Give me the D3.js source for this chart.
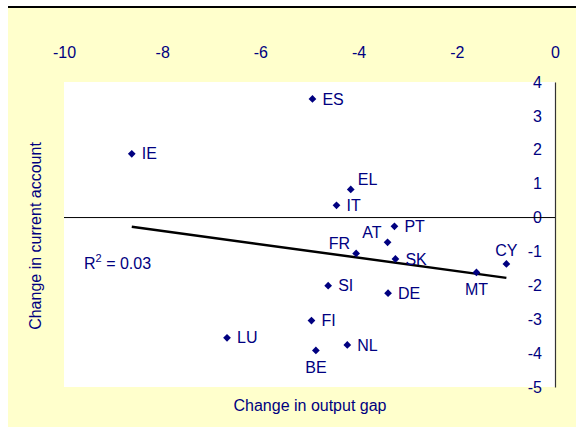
<!DOCTYPE html>
<html><head><meta charset="utf-8">
<script src="https://cdn.jsdelivr.net/npm/d3@7"></script>
<style>
html,body{margin:0;padding:0;background:#fff;}
text{font-family:"Liberation Sans",Arial,sans-serif;}
</style></head>
<body><svg id="c" width="576" height="427"></svg>
<script>
const countries = ["ES","IE","EL","IT","PT","AT","FR","SK","CY","MT","SI","DE","FI","NL","BE","LU"];
const outputGap = [-4.94,-8.62,-4.16,-4.45,-3.27,-3.41,-4.05,-3.25,-0.99,-1.60,-4.62,-3.40,-4.96,-4.23,-4.87,-6.68];
const currentAccount = [3.50,1.88,0.83,0.36,-0.26,-0.73,-1.06,-1.22,-1.37,-1.62,-2.01,-2.23,-3.04,-3.76,-3.92,-3.55];
// label placement: r = right, a = above-right, l = above-left, t = above, b = below
const labelPos = ["r","r","a","r","r","l","l","r","t","b","r","r","r","r","b","r"];
const trendX = [-8.62,-0.99];
const trendY = [-0.27,-1.78];
const xTicks = [-10,-8,-6,-4,-2,0];
const yTicks = [4,3,2,1,0,-1,-2,-3,-4,-5];
const rSquared = "0.03";

const navy = "#000080";
const svg = d3.select("#c");
const L = 64, R = 555, T = 82, B = 387;

svg.append("rect").attr("x",8).attr("y",8).attr("width",568).attr("height",419).attr("fill","#FFFFCC");
svg.append("line").attr("x1",8).attr("x2",576).attr("y1",7).attr("y2",7).attr("stroke","#000").attr("stroke-width",2);
svg.append("rect").attr("x",L).attr("y",T).attr("width",R-L).attr("height",B-T).attr("fill","#fff");

const x = d3.scaleLinear().domain([-10,0]).range([L,R]);
const y = d3.scaleLinear().domain([-5,4]).range([B,T]);
const fmt = d => String(d);

// top axis labels
const gx = svg.append("g").attr("transform",`translate(0,${T})`)
  .call(d3.axisTop(x).tickValues(xTicks).tickSize(0).tickPadding(24).tickFormat(fmt));
gx.select(".domain").remove();
gx.selectAll("text").attr("fill",navy).attr("font-size",16).style("font-family","Liberation Sans, Arial, sans-serif");

// right axis
const gy = svg.append("g").attr("transform",`translate(${R},0)`)
  .call(d3.axisLeft(y).tickValues(yTicks).tickSize(0).tickSizeOuter(0).tickPadding(13).tickFormat(fmt));
gy.select(".domain").attr("stroke","#333").attr("stroke-width",1.2);
gy.selectAll("text").attr("fill",navy).attr("font-size",16).style("font-family","Liberation Sans, Arial, sans-serif");

// zero line
svg.append("line").attr("x1",L).attr("x2",R).attr("y1",y(0)).attr("y2",y(0)).attr("stroke","#000").attr("stroke-width",1);

// trend line
svg.append("line").attr("x1",x(trendX[0])).attr("y1",y(trendY[0])).attr("x2",x(trendX[1])).attr("y2",y(trendY[1]))
  .attr("stroke","#000").attr("stroke-width",2.5);

const data = countries.map((c,i)=>({c, x:outputGap[i], y:currentAccount[i], p:labelPos[i]}));
const sym = d3.symbol().type(d3.symbolSquare).size(30);
svg.append("g").selectAll("path").data(data).join("path")
  .attr("d",sym).attr("fill",navy)
  .attr("transform",d=>`translate(${x(d.x)},${y(d.y)}) rotate(45)`);

const off = {r:[10,0,"start"], a:[7,-10,"start"], l:[-6,-10,"end"], t:[0,-14,"middle"], b:[0,17,"middle"]};
svg.append("g").selectAll("text").data(data).join("text")
  .attr("x",d=>x(d.x)+off[d.p][0]).attr("y",d=>y(d.y)+off[d.p][1])
  .attr("dy","0.35em").attr("text-anchor",d=>off[d.p][2])
  .attr("fill",navy).attr("font-size",16).text(d=>d.c);

// R squared
const rt = svg.append("text").attr("x",84).attr("y",269).attr("fill",navy).attr("font-size",16);
rt.append("tspan").text("R");
rt.append("tspan").attr("font-size",11).attr("dy",-7).text("2");
rt.append("tspan").attr("dy",7).text(" = " + rSquared);

// axis titles
svg.append("text").attr("x",310).attr("y",405).attr("dy","0.35em").attr("text-anchor","middle")
  .attr("fill",navy).attr("font-size",16).text("Change in output gap");
svg.append("text").attr("transform","translate(35,236) rotate(-90)").attr("dy","0.35em").attr("text-anchor","middle")
  .attr("fill",navy).attr("font-size",16).text("Change in current account");
</script></body></html>
